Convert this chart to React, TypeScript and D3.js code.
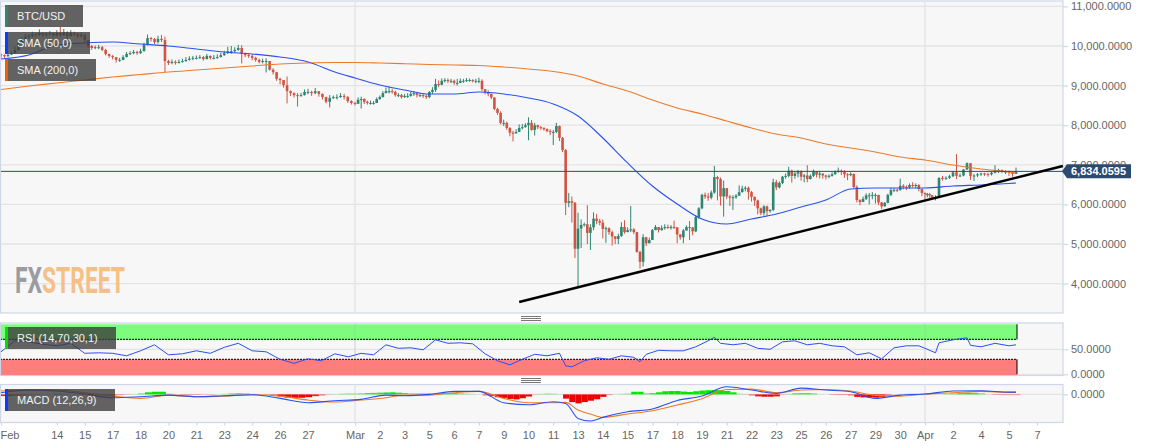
import { useRef, useEffect } from "react";
import * as d3 from "d3";

// one close/high/low per 4h candle, eight to a line (one tick step)
const closes = [
  9770, 9740, 9780, 9810, 9900, 10080, 10160, 10230,
  10250, 10300, 10280, 10330, 10280, 10300, 10320, 10270,
  10330, 10280, 10350, 10250, 10330, 10300, 10250, 10280,
  10150, 10000, 9950, 9970, 9970, 9900, 9800, 9750,
  9720, 9650, 9650, 9720, 9800, 9820, 9850, 9820,
  9870, 10030, 10200, 10180, 10100, 10180, 10150, 9620,
  9570, 9600, 9570, 9600, 9620, 9650, 9680, 9700,
  9700, 9720, 9670, 9750, 9700, 9700, 9720, 9770,
  9820, 9870, 9870, 9900, 9950, 9800, 9770, 9750,
  9700, 9650, 9600, 9620, 9620, 9400, 9340, 9170,
  9140, 9010, 8860, 8810, 8760, 8740, 8760, 8840,
  8840, 8810, 8860, 8790, 8710, 8590, 8690, 8710,
  8710, 8740, 8710, 8610, 8560, 8540, 8640, 8660,
  8590, 8560, 8560, 8560, 8660, 8710, 8810, 8860,
  8860, 8840, 8760, 8760, 8710, 8740, 8740, 8790,
  8810, 8760, 8760, 8740, 8710, 8840, 8890, 9040,
  9020, 9120, 9140, 9120, 9120, 9070, 9070, 9120,
  9120, 9140, 9140, 9120, 9120, 9120, 8910, 8840,
  8790, 8700, 8410, 8310, 8060, 8060, 7930, 7810,
  7800, 7830, 7930, 7950, 8000, 8060, 7880, 8000,
  7950, 7930, 7900, 7850, 7830, 7830, 7980, 7680,
  7370, 6040, 6080, 6040, 4880, 5390, 5480, 5500,
  5280, 5420, 5640, 5580, 5540, 5380, 5400, 5300,
  5190, 5130, 5200, 5430, 5300, 5350, 5370, 5300,
  4800, 4550, 5170, 5020, 5100, 5350, 5430, 5350,
  5400, 5430, 5420, 5430, 5420, 5240, 5170, 5340,
  5430, 5420, 5320, 5680, 5900, 6240, 6200, 6170,
  6300, 6690, 6640, 6200, 6410, 6200, 6170, 6180,
  6220, 6310, 6400, 6420, 6310, 6190, 6100, 5900,
  5780, 5950, 5830, 5860, 6560, 6430, 6540, 6700,
  6720, 6850, 6720, 6780, 6830, 6700, 6730, 6640,
  6720, 6830, 6750, 6780, 6730, 6700, 6720, 6760,
  6820, 6850, 6830, 6760, 6740, 6770, 6440, 6110,
  6060, 6140, 6230, 6230, 6240, 6240, 6050, 5950,
  6040, 6240, 6360, 6370, 6360, 6470, 6440, 6430,
  6490, 6480, 6490, 6390, 6290, 6260, 6260, 6230,
  6170, 6180, 6670, 6650, 6670, 6710, 6810, 6720,
  6730, 6880, 7040, 6720, 6730, 6760, 6780, 6770,
  6760, 6800, 6870, 6870, 6830, 6830, 6810, 6770,
  6834.0595,
];
const highs = [
  9810, 9790, 9830, 9860, 9980, 10150, 10220, 10300,
  10300, 10360, 10340, 10420, 10340, 10350, 10380, 10340,
  10400, 10480, 10430, 10370, 10400, 10360, 10330, 10340,
  10300, 10150, 10030, 10010, 10030, 10000, 9930, 9800,
  9770, 9720, 9700, 9770, 9850, 9870, 9900, 9880,
  9930, 10080, 10290, 10230, 10200, 10260, 10280, 10240,
  9650, 9660, 9640, 9660, 9680, 9720, 9740, 9750,
  9760, 9770, 9750, 9800, 9760, 9770, 9790, 9830,
  9880, 9980, 10000, 9970, 10030, 10020, 9830, 9810,
  9790, 9730, 9680, 9680, 9690, 9620, 9440, 9290,
  9200, 9080, 9230, 8880, 8830, 8810, 8820, 8900,
  8920, 8870, 8940, 8860, 8800, 8720, 8760, 8750,
  8780, 8810, 8790, 8740, 8630, 8590, 8700, 8720,
  8680, 8620, 8620, 8610, 8700, 8750, 8860, 8950,
  8980, 8920, 8870, 8810, 8790, 8790, 8810, 8840,
  8860, 8830, 8810, 8800, 8780, 8860, 8960, 9170,
  9130, 9180, 9190, 9180, 9170, 9150, 9170, 9180,
  9170, 9190, 9180, 9160, 9170, 9200, 9160, 8900,
  8880, 8800, 8700, 8440, 8350, 8140, 8090, 7950,
  7860, 7900, 8020, 8030, 8050, 8200, 8130, 8060,
  8010, 7980, 7950, 7920, 7900, 7880, 8060, 7990,
  7700, 7400, 6290, 6200, 6060, 5790, 5620, 5540,
  5980, 5500, 5800, 5760, 5640, 5620, 5440, 5420,
  5340, 5200, 5260, 5550, 5600, 5420, 5960, 5400,
  5300, 4830, 5250, 5180, 5160, 5380, 5480, 5420,
  5470, 5500, 5490, 5480, 5590, 5430, 5250, 5380,
  5470, 5580, 5430, 5720, 5930, 6270, 6300, 6290,
  6350, 6970, 6720, 6680, 6600, 6290, 6240, 6230,
  6260, 6480, 6470, 6460, 6450, 6340, 6200, 6120,
  5920, 5980, 5970, 5880, 6650, 6620, 6580, 6720,
  6780, 6950, 6880, 6840, 6870, 6860, 6770, 6990,
  6760, 6880, 6840, 6830, 6780, 6750, 6760, 6810,
  6860, 6930, 6880, 6860, 6790, 6810, 6780, 6480,
  6130, 6200, 6280, 6290, 6310, 6280, 6240, 6060,
  6060, 6270, 6420, 6410, 6400, 6650, 6510, 6480,
  6530, 6560, 6530, 6510, 6400, 6300, 6290, 6290,
  6240, 6230, 6680, 6720, 6710, 6750, 6840, 7270,
  6780, 6890, 7060, 7000, 6770, 6790, 6800, 6800,
  6800, 6820, 6990, 6900, 6880, 6860, 6850, 6830,
  6930,
];
const lows = [
  9700, 9700, 9730, 9770, 9800, 9880, 10060, 10120,
  10190, 10220, 10220, 10250, 10220, 10240, 10260, 10220,
  10240, 10230, 10260, 10200, 10240, 10250, 10200, 10220,
  10080, 9950, 9900, 9920, 9920, 9870, 9760, 9700,
  9660, 9580, 9600, 9640, 9710, 9770, 9790, 9780,
  9800, 9860, 10010, 10110, 10050, 10060, 10100, 9340,
  9520, 9540, 9530, 9560, 9580, 9600, 9630, 9640,
  9660, 9670, 9630, 9660, 9660, 9660, 9680, 9710,
  9750, 9800, 9800, 9830, 9880, 9560, 9720, 9700,
  9640, 9600, 9560, 9560, 9330, 9380, 9280, 9120,
  9030, 8950, 8550, 8740, 8700, 8470, 8720, 8750,
  8780, 8740, 8780, 8720, 8650, 8550, 8450, 8660,
  8650, 8690, 8650, 8560, 8520, 8500, 8580, 8420,
  8540, 8520, 8520, 8520, 8570, 8640, 8700, 8830,
  8800, 8800, 8720, 8710, 8670, 8690, 8690, 8720,
  8740, 8700, 8710, 8690, 8660, 8680, 8790, 8840,
  8960, 9010, 9080, 9060, 9060, 9020, 9000, 9060,
  9070, 9090, 9100, 9080, 9060, 9060, 8860, 8780,
  8730, 8660, 8380, 8260, 8020, 7980, 7880, 7720,
  7590, 7780, 7850, 7890, 7940, 7620, 7860, 7740,
  7900, 7880, 7860, 7820, 7750, 7500, 7800, 7600,
  7320, 5730, 5930, 5540, 4650, 3910, 4900, 5440,
  5000, 4850, 5350, 5500, 5470, 5140, 5030, 5230,
  4960, 5000, 5000, 5180, 5260, 5300, 5300, 5250,
  4780, 4380, 4430, 4950, 5060, 5180, 5350, 5290,
  5340, 5360, 5380, 5360, 5380, 5020, 5110, 5020,
  5380, 5100, 5220, 5300, 5640, 5880, 6140, 6090,
  6130, 6270, 6100, 5970, 5690, 6130, 5960, 5860,
  6140, 6230, 6300, 6330, 6120, 6070, 5960, 5750,
  5730, 5720, 5720, 5790, 5830, 6360, 6400, 6510,
  6650, 6680, 6550, 6650, 6680, 6600, 6560, 6560,
  6630, 6690, 6680, 6660, 6650, 6630, 6660, 6700,
  6750, 6800, 6740, 6670, 6610, 6710, 6400, 6050,
  5980, 6080, 6110, 6000, 6130, 6020, 5980, 5880,
  5950, 6030, 6210, 6310, 6310, 6350, 6380, 6360,
  6390, 6430, 6410, 6330, 6210, 6130, 6180, 6170,
  6130, 6100, 6170, 6600, 6620, 6640, 6690, 6640,
  6690, 6710, 6880, 6620, 6590, 6690, 6720, 6720,
  6700, 6730, 6780, 6790, 6790, 6770, 6720, 6700,
  6780,
];
const firstOpen = 9790;
const lastPrice = 6834.0595;

const smaIndex = [
  0, 8, 16, 24, 32, 40, 48, 56, 64, 72, 80, 88, 96, 102, 110, 118, 126, 134, 142, 150, 158, 166,
  174, 182, 190, 198, 206, 214, 222, 230, 238, 246, 254, 262, 270, 278, 286, 294, 302, 310, 312,
];
const sma50 = [
  9672, 9773, 10025, 10076, 10101, 10050, 10000, 9924, 9848, 9798, 9722, 9596, 9344, 9192, 9015,
  8889, 8788, 8788, 8838, 8788, 8687, 8536, 8232, 7677, 7046, 6465, 6011, 5632, 5505, 5632, 5758,
  5935, 6111, 6389, 6415, 6415, 6415, 6465, 6490, 6528, 6541,
];
const sma200 = [
  8902, 8990, 9066, 9141, 9217, 9280, 9344, 9394, 9445, 9495, 9546, 9571, 9583, 9583, 9571, 9553,
  9533, 9520, 9508, 9470, 9419, 9356, 9243, 9041, 8864, 8636, 8434, 8283, 8106, 7929, 7778, 7677,
  7525, 7424, 7323, 7197, 7122, 6995, 6894, 6819, 6793,
];

const trendIndex = [155, 325.4];
const trendPrice = [3536, 6970];

const rsiIndex = [
  0, 4, 8, 12, 16, 20, 24, 28, 32, 36, 40, 44, 48, 52, 56, 60, 64, 68, 72, 76, 80, 84, 88, 92, 96,
  100, 104, 108, 112, 116, 120, 124, 128, 132, 136, 140, 144, 148, 152, 156, 160, 164, 168, 170,
  172, 176, 180, 184, 188, 192, 194, 196, 200, 204, 208, 212, 216, 218, 220, 224, 228, 232, 236,
  240, 244, 248, 252, 256, 260, 264, 268, 272, 276, 280, 284, 286, 289, 290, 294, 298, 299, 302,
  306, 310, 312,
];
const rsiValues = [
  45, 67, 65, 60, 57, 62, 42, 43, 42, 37, 47, 59, 39, 41, 47, 42, 54, 62, 47, 45, 30, 22, 31, 27,
  41, 35, 42, 39, 59, 52, 53, 49, 69, 62, 63, 61, 41, 27, 19, 30, 40, 37, 42, 17, 15, 27, 33, 30,
  37, 34, 25, 40, 48, 47, 47, 55, 67, 74, 62, 59, 62, 52, 50, 65, 67, 59, 62, 57, 55, 39, 43, 31,
  53, 57, 57, 52, 43, 63, 69, 73, 58, 55, 62, 57, 59,
];

const macdIndex = [
  0, 8, 16, 24, 32, 40, 48, 56, 64, 72, 80, 88, 96, 104, 112, 118, 126, 134, 142, 150, 158, 166,
  170, 174, 178, 182, 190, 198, 206, 214, 222, 230, 238, 246, 254, 262, 270, 278, 286, 294, 302,
  310, 312,
];
const macdLine = [
  24, 62, 48, 5, -48, -33, -10, -33, -19, -5, -57, -119, -90, -71, -10, -19, 0, 43, 43, -119, -148,
  -105, -129, -343, -381, -328, -248, -209, -86, -24, 109, 62, 14, 90, 62, 38, -57, -10, 5, 48, 52,
  33, 33,
];
const macdSignal = [
  48, 62, 62, 24, -24, -57, -10, -33, -24, -5, -24, -81, -109, -81, -48, -10, -10, 24, 43, -57,
  -119, -119, -114, -224, -281, -328, -281, -233, -152, -62, 71, 76, 24, 62, 71, 48, -14, -24, 5,
  24, 43, 29, 29,
];
// histogram, every second candle
const macdHist = [
  -24, -24, -20, -15, -10, -5, 0, 5, 10, 8, 5, 0, -5, -10, -14, -14,
  -14, -10, -5, 5, 15, 30, 38, 38,
  10, -5, -8, -8, -8, -5, -5, 0,
  8, 15, 18, 15, 8, 0, -5, -15,
  -30, -45, -48, -48, -40, -25, -15, -5,
  5, 10, 12, 12, 15, 20, 22, 25,
  28, 30, 25, 20, 15, 15, 15, 15,
  20, 20, 20, 20, 15, 10, 5, 0,
  -15, -25, -40, -50, -65, -71, -55, -30,
  -5, 8, 12, 10, 5, -60, -110, -128,
  -110, -90, -70, -35, -10, 3, 8, 12,
  38, 38, 15, 20, 30, 45, 48, 48,
  40, 35, 45, 55, 60, 62, 60, 50,
  30, 10, -5, -15, -28, -33, -33, -28,
  -5, 8, 18, 20, 20, 15, 3, 0,
  -8, -10, -10, -15, -35, -43, -45, -45,
  -35, -15, -3, 5, 8, 10, 8, 3,
  3, 0, 5, 15, 22, 25, 22, 15,
  -3, -8, -10, -10, -10,
];

const priceTicks = [4000, 5000, 6000, 7000, 8000, 9000, 10000, 11000];
const rsiTicks = [0, 50];
const timeIndex = [
  0, 16, 24, 32, 40, 48, 56, 64, 72, 80, 88, 102, 110, 118, 126, 134, 142, 150, 158, 166, 174, 182,
  190, 198, 206, 214, 222, 230, 238, 246, 254, 262, 270, 278, 286, 294, 302, 310, 318,
];
const timeLabels = [
  "Feb", "14", "15", "17", "18", "20", "21", "23", "24", "26", "27", "Mar", "2", "3", "5", "6", "7",
  "9", "10", "11", "13", "14", "15", "17", "18", "19", "21", "22", "23", "25", "26", "27", "29",
  "30", "Apr", "2", "4", "5", "7",
];
const monthIndex = [102, 286];

const legendMain = [
  { label: "BTC/USD", color: "#2e8570", top: 5, w: 78 },
  { label: "SMA (50,0)", color: "#0a3cff", top: 32, w: 85 },
  { label: "SMA (200,0)", color: "#f06000", top: 59, w: 91 },
  { label: "RSI (14,70,30,1)", color: "#00e000", top: 327, w: 111 },
  { label: "MACD (12,26,9)", color: "#0a3cff", top: 389, w: 110 },
];

const FONT = "'Liberation Sans', Arial, sans-serif";
const UP = "#2e8570";
const DOWN = "#cf5443";
const BLUE = "#2a50f0";
const ORANGE = "#ee7a28";
const GRID = "#e4e4e4";
const EDGE = "#cfd6e8";
const PANEL_R = 1063;

function App() {
  const svgRef = useRef<SVGSVGElement>(null);

  useEffect(() => {
    document.body.style.margin = "0";
    drawChart();
  }, []);

  function drawChart() {
    if (!svgRef.current) return;
    const svg = d3.select(svgRef.current);
    svg.selectAll("*").remove();

    // the time axis is squeezed differently in each stretch
    const x = d3.scaleLinear().domain([0, 88, 102, 286, 312]).range([1, 308, 355, 925, 1016]);
    // candles sit a slot off the ticks in March
    const xCandle = d3.scaleLinear().domain([0, 88, 101, 285, 288, 312]).range([1, 308, 355, 925, 932, 1016]);
    const y = d3.scaleLinear().domain([4000, 11000]).range([283.6, 6.4]);
    const yRsi = d3.scaleLinear().domain([0, 100]).range([374.3, 324.3]);
    const yMacd = d3.scaleLinear().domain([-400, 400]).range([422.4, 366.4]);

    const panels = [
      { top: 1, bottom: 313 },
      { top: 323, bottom: 375.5 },
      { top: 384.5, bottom: 422.5 },
    ];
    panels.forEach((p) => {
      svg
        .append("rect")
        .attr("x", 0.5)
        .attr("y", p.top)
        .attr("width", PANEL_R - 0.5)
        .attr("height", p.bottom - p.top)
        .attr("fill", "#f7f7f7")
        .attr("stroke", EDGE)
        .attr("stroke-width", 1.2);
    });

    const defs = svg.append("defs");
    ["main:1:312", "rsi:323:52.5", "macd:384.5:38"].forEach((s) => {
      const [id, t, h] = s.split(":");
      defs
        .append("clipPath")
        .attr("id", `clip-${id}`)
        .append("rect")
        .attr("x", 1)
        .attr("y", +t)
        .attr("width", PANEL_R - 1)
        .attr("height", +h);
    });

    // grid
    const gridLine = (yy: number) =>
      svg
        .append("line")
        .attr("x1", 1)
        .attr("x2", PANEL_R)
        .attr("y1", yy)
        .attr("y2", yy)
        .attr("stroke", GRID)
        .attr("stroke-width", 1.3);
    priceTicks.forEach((t) => gridLine(y(t)));
    rsiTicks.forEach((t) => gridLine(yRsi(t)));
    gridLine(yMacd(0));
    monthIndex.forEach((i) => {
      panels.forEach((p) => {
        svg
          .append("line")
          .attr("x1", x(i))
          .attr("x2", x(i))
          .attr("y1", p.top)
          .attr("y2", p.bottom)
          .attr("stroke", GRID)
          .attr("stroke-width", 1.3);
      });
    });

    // watermark
    const mark = svg
      .append("text")
      .attr("x", 15)
      .attr("y", 293)
      .attr("textLength", 110)
      .attr("lengthAdjust", "spacingAndGlyphs")
      .attr("font-family", "Roboto, sans-serif")
      .attr("font-weight", 700)
      .attr("font-size", 36);
    mark.append("tspan").attr("fill", "#9a9ca3").text("FX");
    mark.append("tspan").attr("fill", "#f4c088").text("STREET");

    // handles between panels
    [316, 378].forEach((t) => {
      [0, 2, 4].forEach((d) => {
        svg
          .append("line")
          .attr("x1", 521)
          .attr("x2", 541)
          .attr("y1", t + d + 0.5)
          .attr("y2", t + d + 0.5)
          .attr("stroke", "#777")
          .attr("stroke-width", 1);
      });
    });

    // candles
    const main = svg.append("g").attr("clip-path", "url(#clip-main)");
    const candles = closes.map((c, i) => ({
      i,
      open: i === 0 ? firstOpen : closes[i - 1],
      close: c,
      high: highs[i],
      low: lows[i],
    }));
    const g = main
      .selectAll("g.candle")
      .data(candles)
      .join("g")
      .attr("class", "candle")
      .attr("fill", (d) => (d.close >= d.open ? UP : DOWN))
      .attr("stroke", (d) => (d.close >= d.open ? UP : DOWN));
    g.append("line")
      .attr("x1", (d) => xCandle(d.i))
      .attr("x2", (d) => xCandle(d.i))
      .attr("y1", (d) => y(Math.max(d.high, d.open, d.close)))
      .attr("y2", (d) => y(Math.min(d.low, d.open, d.close)))
      .attr("stroke-width", 1);
    g.append("rect")
      .attr("x", (d) => xCandle(d.i) - 1.3)
      .attr("width", 2.6)
      .attr("y", (d) => y(Math.max(d.open, d.close)))
      .attr("height", (d) => Math.max(1, Math.abs(y(d.open) - y(d.close))))
      .attr("stroke", "none");

    const smaPath = d3
      .line<number>()
      .x((_, k) => x(smaIndex[k]))
      .y((d) => y(d))
      .curve(d3.curveMonotoneX);
    main
      .append("path")
      .attr("d", smaPath(sma200))
      .attr("fill", "none")
      .attr("stroke", ORANGE)
      .attr("stroke-width", 1.1);
    main
      .append("path")
      .attr("d", smaPath(sma50))
      .attr("fill", "none")
      .attr("stroke", BLUE)
      .attr("stroke-width", 1.1);

    // last price line
    svg
      .append("line")
      .attr("x1", 1)
      .attr("x2", PANEL_R)
      .attr("y1", y(lastPrice))
      .attr("y2", y(lastPrice))
      .attr("stroke", "#2c4a70")
      .attr("stroke-width", 1);

    // trendline
    svg
      .append("line")
      .attr("x1", x(trendIndex[0]))
      .attr("y1", y(trendPrice[0]))
      .attr("x2", x(trendIndex[1]))
      .attr("y2", y(trendPrice[1]))
      .attr("stroke", "#000")
      .attr("stroke-width", 2.6);

    // RSI
    const rsi = svg.append("g").attr("clip-path", "url(#clip-rsi)");
    const bandL = x(0) - 1;
    const bandW = x(312) + 1 - bandL;
    [
      [100, 70, "#7dfc7d"],
      [30, 0, "#ff7d7d"],
    ].forEach(([a, b, c]) => {
      rsi
        .append("rect")
        .attr("x", bandL)
        .attr("width", bandW)
        .attr("y", yRsi(a as number))
        .attr("height", yRsi(b as number) - yRsi(a as number) + 0.8)
        .attr("fill", c as string);
      rsi
        .append("line")
        .attr("x1", bandL + bandW)
        .attr("x2", bandL + bandW)
        .attr("y1", yRsi(a as number))
        .attr("y2", yRsi(b as number))
        .attr("stroke", "#000");
      rsi
        .append("line")
        .attr("x1", bandL)
        .attr("x2", bandL)
        .attr("y1", yRsi(a as number))
        .attr("y2", yRsi(b as number))
        .attr("stroke", "#333");
    });
    [70, 30].forEach((t) => {
      rsi
        .append("line")
        .attr("x1", bandL)
        .attr("x2", bandL + bandW)
        .attr("y1", yRsi(t))
        .attr("y2", yRsi(t))
        .attr("stroke", "#000")
        .attr("stroke-dasharray", "2,1");
    });
    monthIndex.forEach((i) => {
      rsi
        .append("line")
        .attr("x1", x(i))
        .attr("x2", x(i))
        .attr("y1", 323)
        .attr("y2", 375.5)
        .attr("stroke", "#999")
        .attr("stroke-opacity", 0.2);
    });
    const rsiPath = d3
      .line<number>()
      .x((_, k) => x(rsiIndex[k]))
      .y((d) => yRsi(d));
    rsi
      .append("path")
      .attr("d", rsiPath(rsiValues))
      .attr("fill", "none")
      .attr("stroke", BLUE)
      .attr("stroke-width", 1);

    // MACD
    const macd = svg.append("g").attr("clip-path", "url(#clip-macd)");
    const histOpacity = d3.scaleLinear().domain([0, 30]).range([0.25, 1]).clamp(true);
    macd
      .selectAll("rect.hist")
      .data(macdHist)
      .join("rect")
      .attr("class", "hist")
      .attr("x", (_, k) => x(k * 2) - 2.6)
      .attr("width", (_, k) => x(k * 2 + 2) - x(k * 2))
      .attr("y", (d) => Math.min(yMacd(d), yMacd(0)))
      .attr("height", (d) => Math.abs(yMacd(d) - yMacd(0)))
      .attr("fill", (d) => (d >= 0 ? "#00e800" : "#f00000"))
      .attr("fill-opacity", (d) => histOpacity(Math.abs(d)));
    const macdPath = d3
      .line<number>()
      .x((_, k) => x(macdIndex[k]))
      .y((d) => yMacd(d))
      .curve(d3.curveMonotoneX);
    macd
      .append("path")
      .attr("d", macdPath(macdSignal))
      .attr("fill", "none")
      .attr("stroke", ORANGE)
      .attr("stroke-width", 1.1);
    macd
      .append("path")
      .attr("d", macdPath(macdLine))
      .attr("fill", "none")
      .attr("stroke", BLUE)
      .attr("stroke-width", 1.1);

    // axes
    const styleAxis = (a: d3.Selection<SVGGElement, unknown, null, undefined>) => {
      a.select(".domain").remove();
      a.selectAll("line").attr("stroke", EDGE).attr("stroke-width", 1.2);
      a.selectAll("text").attr("fill", "#666").attr("font-family", FONT).attr("font-size", 11);
    };
    const fmt = d3.format(",.4f");
    const right = (scale: d3.ScaleLinear<number, number>, ticks: number[]) =>
      svg
        .append("g")
        .attr("transform", `translate(${PANEL_R},0)`)
        .call(d3.axisRight(scale).tickValues(ticks).tickSize(5).tickPadding(3).tickFormat((d) => fmt(d as number)))
        .call(styleAxis);
    right(y, priceTicks);
    right(yRsi, rsiTicks);
    right(yMacd, [0]);

    const bottom = svg
      .append("g")
      .attr("transform", "translate(0,422.5)")
      .call(
        d3
          .axisBottom(x)
          .tickValues(timeIndex)
          .tickSize(3)
          .tickPadding(6)
          .tickFormat((_, k) => timeLabels[k])
      )
      .call(styleAxis);
    bottom
      .selectAll<SVGTextElement, number>("text")
      .filter((d) => d === 0)
      .attr("text-anchor", "start")
      .attr("dx", -1);

    // price tag
    const tagY = y(lastPrice);
    svg
      .append("path")
      .attr("d", `M${PANEL_R - 1},${tagY} l5,-7 h64 v14 h-64 z`)
      .attr("fill", "#2c4a70");
    svg
      .append("text")
      .attr("x", 1071)
      .attr("y", tagY + 4)
      .attr("fill", "#fff")
      .attr("font-family", FONT)
      .attr("font-size", 11)
      .attr("font-weight", 700)
      .text(fmt(lastPrice));

    // indicator labels
    legendMain.forEach((l) => {
      svg
        .append("rect")
        .attr("x", 5)
        .attr("y", l.top)
        .attr("width", l.w)
        .attr("height", 22)
        .attr("fill", "#3c3c3c")
        .attr("fill-opacity", 0.8);
      svg
        .append("rect")
        .attr("x", 5)
        .attr("y", l.top)
        .attr("width", 3)
        .attr("height", 22)
        .attr("fill", l.color);
      svg
        .append("text")
        .attr("x", 17)
        .attr("y", l.top + 15)
        .attr("fill", "#f2f2f2")
        .attr("font-family", FONT)
        .attr("font-size", 11)
        .text(l.label);
    });
  }

  return (
    <svg
      ref={svgRef}
      width={1153}
      height={448}
      style={{ position: "absolute", left: 0, top: 0, display: "block", background: "#fff" }}
    />
  );
}

export default App;
